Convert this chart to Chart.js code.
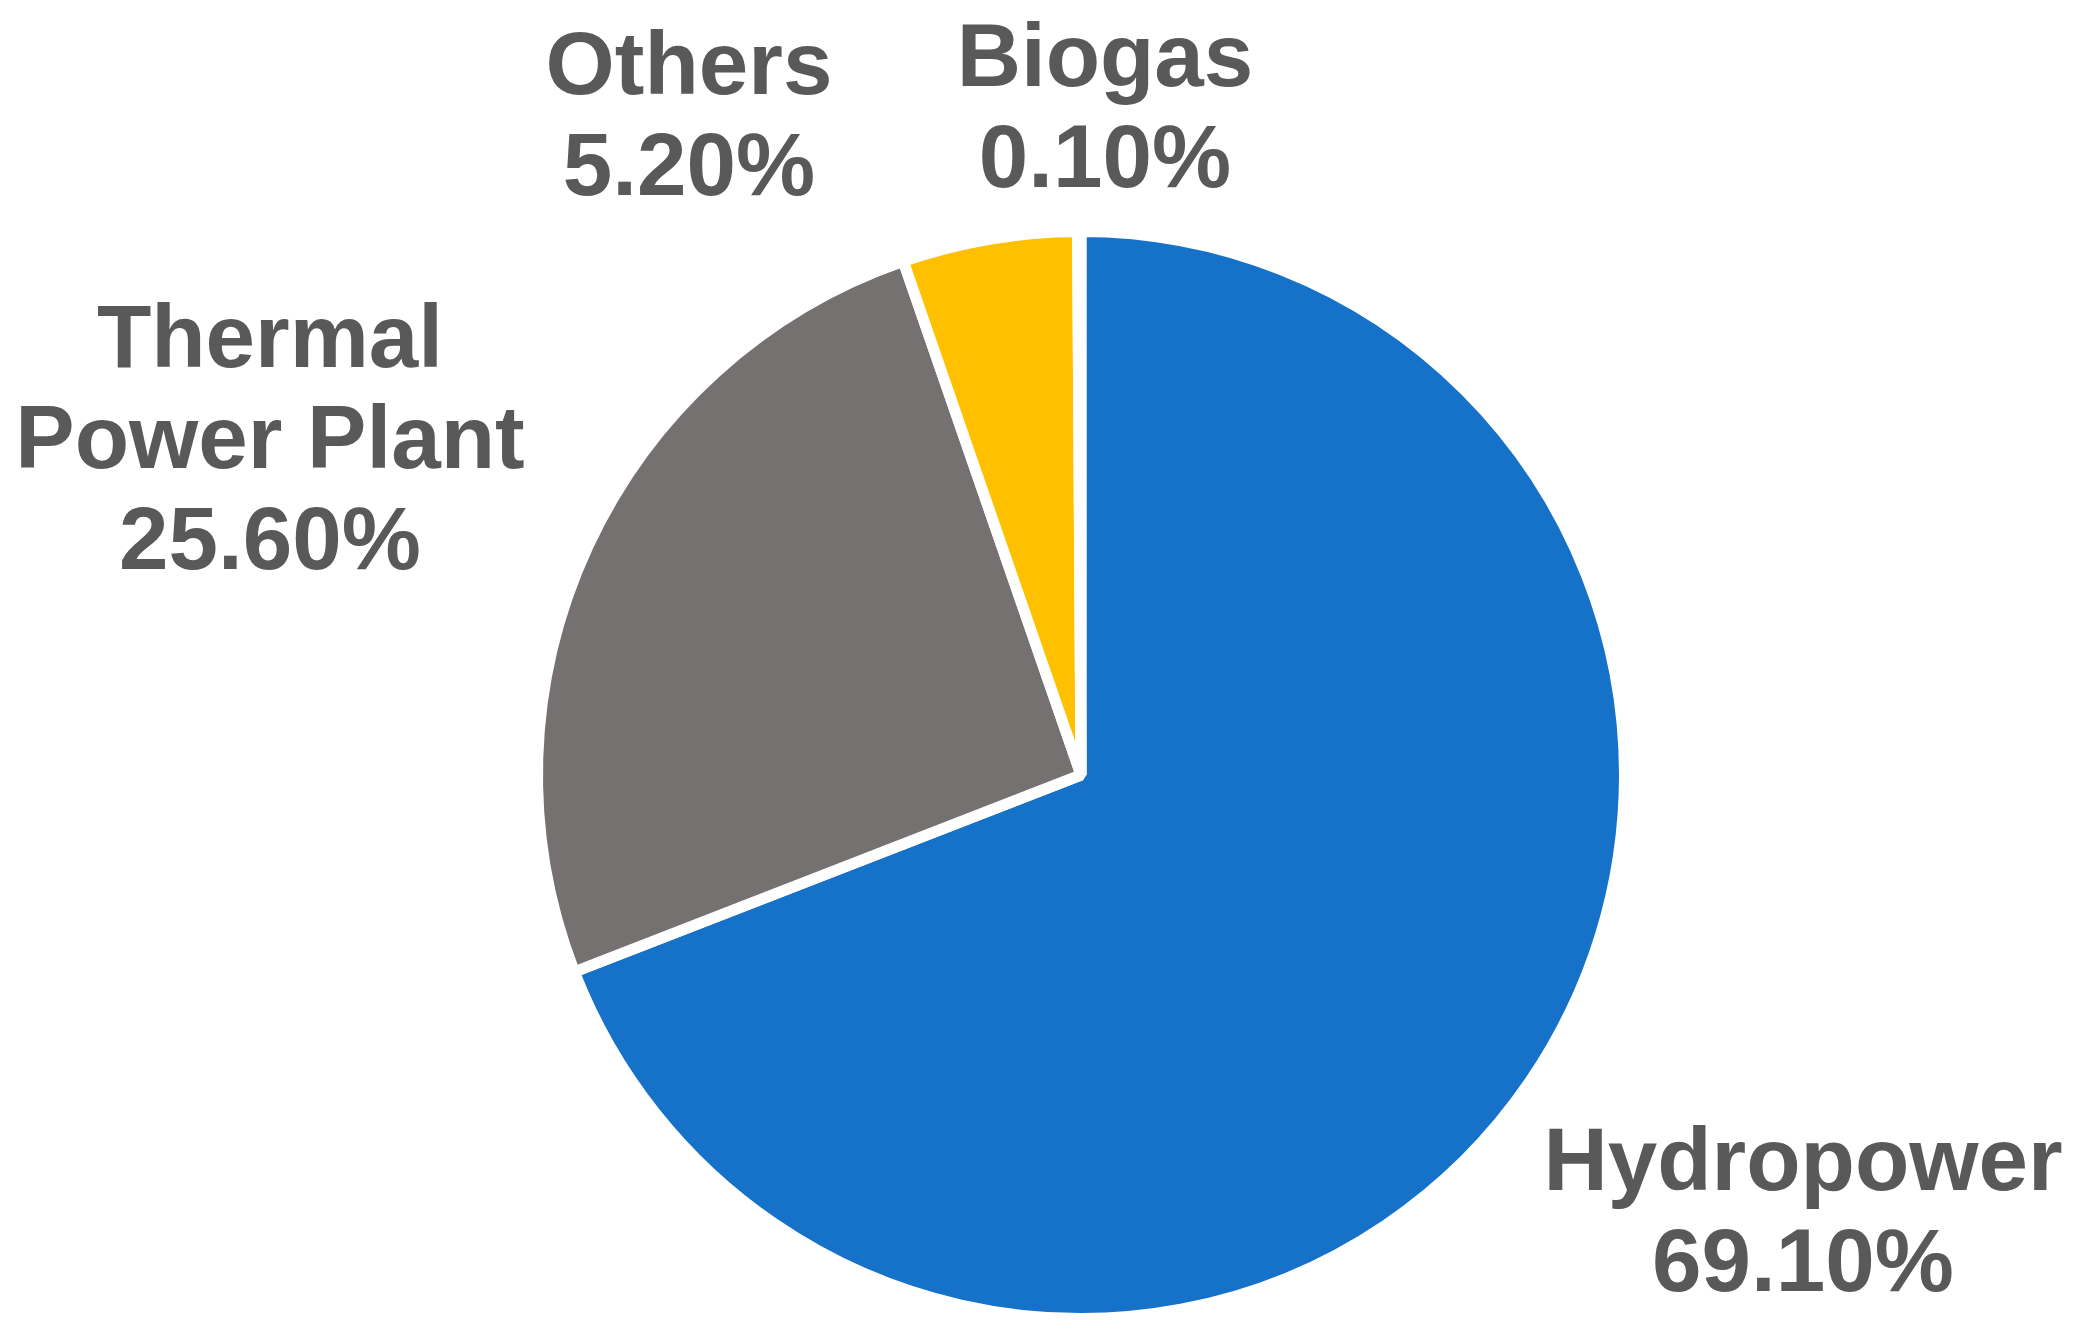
<!DOCTYPE html>
<html>
<head>
<meta charset="utf-8">
<script src="https://cdn.jsdelivr.net/npm/chart.js@4/dist/chart.umd.min.js"></script>
<style>
  html, body { margin: 0; padding: 0; background: #ffffff; }
  #wrap { width: 2078px; height: 1340px; position: relative; overflow: hidden; }
  #c { position: absolute; left: 0; top: 0; }
  .lbl {
    position: absolute; width: 800px; text-align: center; white-space: nowrap;
    font-family: "Liberation Sans", Arial, sans-serif; font-weight: bold;
    font-size: 89px; line-height: 101px; color: #595959;
  }
</style>
</head>
<body>
<div id="wrap"><canvas id="c" width="2078" height="1340"></canvas></div>
<script>
// ---- data ----
const categories = ['Hydropower', 'Thermal Power Plant', 'Others', 'Biogas'];
const shares = [69.1, 25.6, 5.2, 0.1];
const labelNameLines = [['Hydropower'], ['Thermal', 'Power Plant'], ['Others'], ['Biogas']];

// ---- styles ----
const sliceColors = ['#1672C9', '#767171', '#FFC000', '#5B9BD5'];
const lineHeight = 101;
const capHalf = 32;
const baselineInLine = 81;   // baseline position inside a 101px line box at 89px
const sliceBorder = 11;
// label offsets from the slice's outer mid-point (text block centre)
const labelOffsets = [[278, 130], [-323, -113], [-301, -132], [26, -133]];

const wrap = document.getElementById('wrap');
const labelEls = categories.map(() => {
  const d = document.createElement('div');
  d.className = 'lbl';
  wrap.appendChild(d);
  return d;
});

const pieLabels = {
  id: 'pieLabels',
  afterRender(chart) {
    const meta = chart.getDatasetMeta(0);
    meta.data.forEach((arc, i) => {
      const p = arc.getProps(['x', 'y', 'startAngle', 'endAngle', 'outerRadius'], true);
      const mid = (p.startAngle + p.endAngle) / 2;
      const r = p.outerRadius - sliceBorder / 2;
      const cx = p.x + Math.cos(mid) * r + labelOffsets[i][0];
      const cy = p.y + Math.sin(mid) * r + labelOffsets[i][1];
      const lines = labelNameLines[i].concat([shares[i].toFixed(2) + '%']);
      const firstBaseline = cy + capHalf - (lines.length - 1) * lineHeight / 2;
      const el = labelEls[i];
      el.innerHTML = '';
      lines.forEach((t, k) => {
        if (k) el.appendChild(document.createElement('br'));
        el.appendChild(document.createTextNode(t));
      });
      el.style.left = Math.round(cx - 400) + 'px';
      el.style.top = Math.round(firstBaseline - baselineInLine) + 'px';
    });
  }
};

new Chart(document.getElementById('c'), {
  type: 'pie',
  data: {
    labels: categories,
    datasets: [{
      data: shares,
      backgroundColor: sliceColors,
      borderColor: '#ffffff',
      borderWidth: sliceBorder,
      hoverOffset: 0,
      offset: 0
    }]
  },
  options: {
    responsive: false,
    animation: false,
    devicePixelRatio: 1,
    layout: { padding: { top: 226, bottom: 16, left: 532, right: 448 } },
    plugins: {
      legend: { display: false },
      tooltip: { enabled: false }
    }
  },
  plugins: [pieLabels]
});
</script>
</body>
</html>
